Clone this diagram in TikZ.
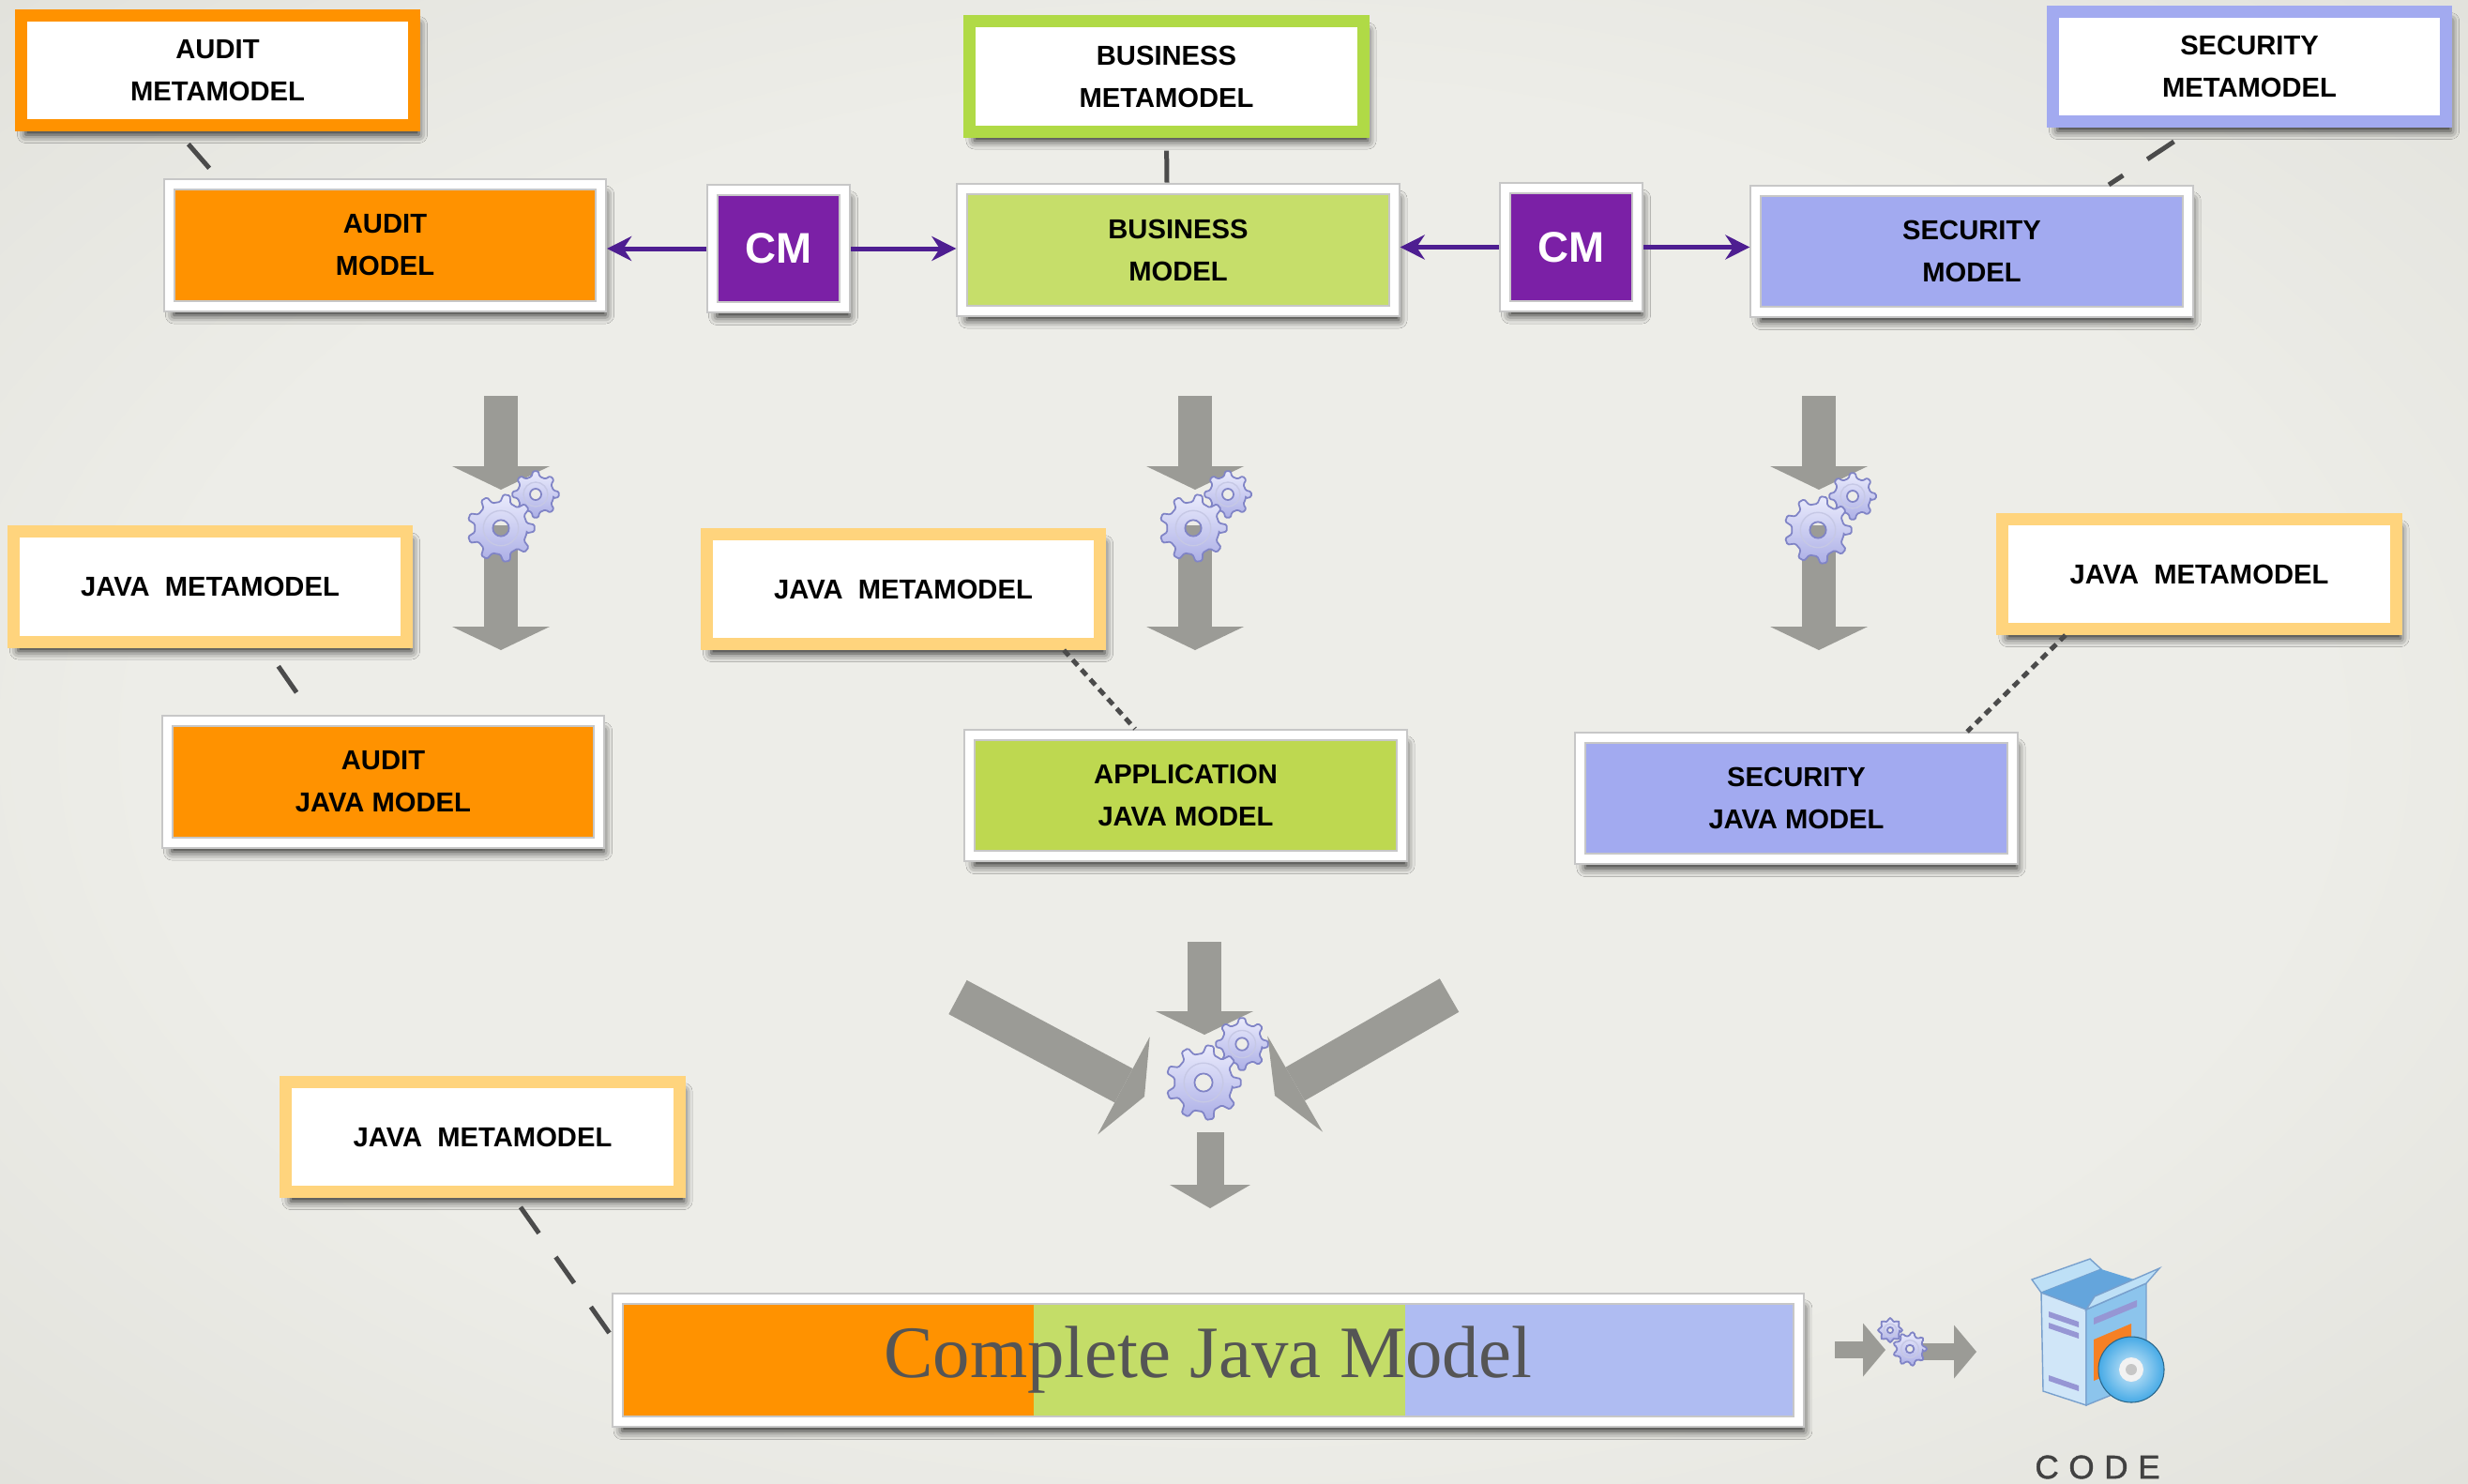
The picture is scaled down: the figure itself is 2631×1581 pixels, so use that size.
\documentclass[tikz,border=0pt]{standalone}
\usepackage{fontspec}
\newfontfamily\labelsans{Liberation Sans}
\newfontfamily\titleserif{Liberation Serif}
\newfontfamily\codesans{Liberation Sans}[LetterSpace=30,FakeBold=1.2]
\usepackage{xcolor}
\usepackage{tikz}
\usetikzlibrary{arrows.meta,calc,shadows.blur}

\definecolor{auditc}{RGB}{255,146,0}
\definecolor{busframe}{RGB}{176,218,70}
\definecolor{busc}{RGB}{198,222,106}
\definecolor{appc}{RGB}{190,216,80}
\definecolor{secc}{RGB}{162,170,240}
\definecolor{javac}{RGB}{255,212,125}
\definecolor{cmc}{RGB}{123,32,166}
\definecolor{cmline}{RGB}{78,30,145}
\definecolor{flowgray}{RGB}{155,155,150}
\definecolor{linkc}{RGB}{75,75,75}
\definecolor{gearhi}{RGB}{234,235,252}
\definecolor{gearlo}{RGB}{172,175,230}
\definecolor{gearline}{RGB}{128,132,198}
\definecolor{fullgreen}{RGB}{196,221,104}
\definecolor{fullblue}{RGB}{175,188,242}
\definecolor{fulltext}{RGB}{85,85,85}
\definecolor{codegray}{RGB}{65,65,65}
\definecolor{boxleft}{RGB}{208,230,248}
\definecolor{boxright}{RGB}{140,196,236}
\definecolor{boxtop}{RGB}{190,224,246}
\definecolor{boxinner}{RGB}{100,165,220}
\definecolor{boxedge}{RGB}{120,160,205}
\definecolor{boxstripe}{RGB}{150,150,212}
\definecolor{boxpanel}{RGB}{246,128,36}
\definecolor{cdblue}{RGB}{70,170,230}
\definecolor{bgin}{RGB}{237,237,232}
\definecolor{bgmid}{RGB}{214,214,207}
\definecolor{bgout}{RGB}{190,190,183}

\pgfdeclareradialshading{vignette}{\pgfpoint{0bp}{0bp}}{%
  color(0bp)=(bgin); color(22bp)=(bgin); color(50bp)=(bgmid); color(71bp)=(bgout)}

\newcommand{\boxfont}{\labelsans\bfseries\fontsize{8.3}{12.8}\selectfont}

% cog wheel: x, y, outer radius, number of teeth
\newcommand{\gearwheel}[4]{%
  \begin{scope}[shift={(#1,#2)}]
    \shadedraw[top color=gearhi, bottom color=gearlo, draw=gearline,
      line width=0.5pt, even odd rule, rounded corners=0.4pt]
      ({0.28*360/#4}:{0.78*#3})
      \foreach \k in {1,...,#4} {
        -- ({(\k-0.28)*360/#4}:{0.78*#3}) -- ({(\k-0.14)*360/#4}:#3)
        -- ({(\k+0.14)*360/#4}:#3) -- ({(\k+0.28)*360/#4}:{0.78*#3})
      } -- cycle
      (0,0) circle ({0.24*#3});
    \draw[gearline!45, line width=0.4pt] (0,0) circle ({0.52*#3});
  \end{scope}}

\begin{document}
\begin{tikzpicture}[x=0.01cm, y=-0.01cm,
  boxshadow/.style={blur shadow={shadow xshift=0.05cm, shadow yshift=-0.1cm,
    shadow blur radius=0.09cm, shadow opacity=85}},
  meta/.style={draw=#1, fill=white, line width=0.13cm, minimum width=4.19cm,
    minimum height=1.17cm, inner sep=0pt, align=center, font=\boxfont, boxshadow},
  model/.style={fill=#1, draw=black!22, double=white, double distance=0.09cm,
    line width=0.02cm, outer sep=0.065cm, minimum width=4.60cm,
    minimum height=1.29cm, inner sep=0pt, align=center, font=\boxfont, boxshadow},
  cmbox/.style={model=cmc, minimum width=1.41cm, minimum height=1.25cm, text=white,
    font=\labelsans\bfseries\fontsize{13}{15}\selectfont},
  complete/.style={draw=black!22, double=white, double distance=0.09cm,
    line width=0.02cm, outer sep=0.065cm, minimum width=12.59cm,
    minimum height=1.31cm, boxshadow, text=fulltext,
    font=\titleserif\fontsize{22.4}{26}\selectfont,
    path picture={
      \fill[auditc] (path picture bounding box.south west) rectangle
        ($(path picture bounding box.north west)!0.352!(path picture bounding box.north east)$);
      \fill[fullgreen] ($(path picture bounding box.south west)!0.352!(path picture bounding box.south east)$)
        rectangle ($(path picture bounding box.north west)!0.667!(path picture bounding box.north east)$);
      \fill[fullblue] ($(path picture bounding box.south west)!0.667!(path picture bounding box.south east)$)
        rectangle (path picture bounding box.north east);
    }},
  cmarrow/.style={draw=cmline, line width=0.05cm,
    -{Stealth[length=0.26cm, width=0.26cm]}},
  metalink/.style={draw=linkc, line width=0.05cm, dash pattern=on 0.34cm off 0.31cm},
  metadots/.style={draw=linkc, line width=0.05cm, dash pattern=on 0.08cm off 0.06cm},
  flow/.style={draw=flowgray, line width=0.36cm,
    -{Triangle[length=0.25cm, width=1.04cm, line width=0pt]}},
  flowwide/.style={draw=flowgray, line width=0.41cm,
    -{Triangle[length=0.25cm, width=1.18cm, line width=0pt]}},
  flowsmall/.style={draw=flowgray, line width=0.29cm,
    -{Triangle[length=0.25cm, width=0.86cm, line width=0pt]}},
  flowtiny/.style={draw=flowgray, line width=0.18cm,
    -{Triangle[length=0.24cm, width=0.57cm, line width=0pt]}},
]
  \useasboundingbox (0,0) rectangle (2631,1581);
  \shade[shading=vignette] (0,0) rectangle (2631,1581);

  % metamodels and models
  \node[meta=auditc]   (auditmeta) at (232,75)      {AUDIT\\METAMODEL};
  \node[meta=busframe] (busmeta)   at (1243.5,81.5) {BUSINESS\\METAMODEL};
  \node[meta=secc]     (secmeta)   at (2398,71)     {SECURITY\\METAMODEL};

  \node[model=auditc] (auditmodel) at (410.5,261.5) {AUDIT\\MODEL};
  \node[model=busc]   (busmodel)   at (1256,266.5)  {BUSINESS\\MODEL};
  \node[model=secc]   (secmodel)   at (2102,268)    {SECURITY\\MODEL};
  \node[cmbox] (cmleft)  at (830,265)    {CM};
  \node[cmbox] (cmright) at (1675,263.5) {CM};

  \node[meta=javac] (javaaudit) at (224,625.5) {JAVA~~METAMODEL};
  \node[meta=javac] (javaapp)   at (963,628)   {JAVA~~METAMODEL};
  \node[meta=javac] (javasec)   at (2344.5,612) {JAVA~~METAMODEL};

  \node[model=auditc] (auditjava) at (408.5,833.5) {AUDIT\\JAVA MODEL};
  \node[model=appc]   (appjava)   at (1264,848)    {APPLICATION\\JAVA MODEL};
  \node[model=secc]   (secjava)   at (1915,851)    {SECURITY\\JAVA MODEL};

  \node[meta=javac] (javafull) at (514.5,1212) {JAVA~~METAMODEL};
  \node[complete] (complete) at (1288,1450) {Complete Java Model};

  % CM links
  \draw[cmarrow] (cmleft.west)  -- (cmleft.west -| auditmodel.east);
  \draw[cmarrow] (cmleft.east)  -- (cmleft.east -| busmodel.west);
  \draw[cmarrow] (cmright.west) -- (cmright.west -| busmodel.east);
  \draw[cmarrow] (cmright.east) -- (cmright.east -| secmodel.west);

  % conformance links
  \draw[metalink, dash phase=0.47cm] ([xshift=-0.43cm]auditmeta.south) -- ([xshift=-1.775cm]auditmodel.north);
  \draw[metalink, dash phase=0.51cm] (busmeta.south) -- ([xshift=-0.12cm]busmodel.north);
  \draw[metalink, dash phase=0.38cm] ([xshift=-0.58cm]secmeta.south) -- ([xshift=1.46cm]secmodel.north);
  \draw[metalink, dash phase=0.41cm] ([xshift=0.59cm]javaaudit.south) -- ([xshift=-0.755cm]auditjava.north);
  \draw[metadots] ([xshift=1.71cm]javaapp.south) -- ([xshift=-0.54cm]appjava.north);
  \draw[metadots] ([xshift=-1.425cm]javasec.south) -- ([xshift=1.82cm]secjava.north);
  \draw[metalink, dash phase=0.53cm] ([xshift=0.335cm]javafull.south) -- ([yshift=0.26cm]complete.west);

  % transformations
  \coordinate (t1a) at (534,422);  \coordinate (t1b) at (534,522);
  \coordinate (t1c) at (534,560);  \coordinate (t1d) at (534,693);
  \coordinate (t2a) at (1274,422); \coordinate (t2b) at (1274,522);
  \coordinate (t2c) at (1274,560); \coordinate (t2d) at (1274,693);
  \coordinate (t3a) at (1939,422); \coordinate (t3b) at (1939,522);
  \coordinate (t3c) at (1939,560); \coordinate (t3d) at (1939,693);
  \draw[flow] (t1a) -- (t1b);  \draw[flow] (t1c) -- (t1d);
  \draw[flow] (t2a) -- (t2b);  \draw[flow] (t2c) -- (t2d);
  \draw[flow] (t3a) -- (t3b);  \draw[flow] (t3c) -- (t3d);

  \gearwheel{571}{527}{25}{8}   \gearwheel{534}{563}{36}{9}
  \gearwheel{1309}{527}{25}{8}  \gearwheel{1272}{563}{36}{9}
  \gearwheel{1975}{529}{25}{8}  \gearwheel{1938}{565}{36}{9}

  % merge
  \coordinate (mtop)  at (1284,1004); \coordinate (mtopend) at (1284,1103);
  \coordinate (mleft) at (1021,1063); \coordinate (mleftend) at (1220,1169);
  \coordinate (mright) at (1545,1061); \coordinate (mrightend) at (1359,1168);
  \coordinate (mout) at (1290,1207);  \coordinate (moutend) at (1290,1288);
  \draw[flow] (mtop) -- (mtopend);
  \draw[flowwide] (mleft) -- (mleftend);
  \draw[flowwide] (mright) -- (mrightend);
  \draw[flowsmall] (mout) -- (moutend);
  \gearwheel{1324}{1113}{28}{8}  \gearwheel{1283}{1154}{40}{9}

  % code generation
  \coordinate (ga) at (1956,1439); \coordinate (gb) at (2010,1439);
  \coordinate (gc) at (2050,1441); \coordinate (gd) at (2107,1441);
  \draw[flowtiny] (ga) -- (gb);
  \draw[flowtiny] (gc) -- (gd);
  \gearwheel{2015}{1418}{13}{8}  \gearwheel{2036}{1438}{18}{9}

  % package icon
  \filldraw[fill=boxtop, draw=boxedge, line width=0.4pt] (2176,1378) -- (2166,1364) -- (2228,1342) -- (2240,1353) -- cycle;
  \fill[boxinner] (2176,1378) -- (2240,1353) -- (2288,1368) -- (2224,1396) -- cycle;
  \filldraw[fill=boxleft, draw=boxedge, line width=0.4pt] (2176,1378) -- (2224,1396) -- (2224,1498) -- (2178,1483) -- cycle;
  \filldraw[fill=boxright, draw=boxedge, line width=0.4pt] (2224,1396) -- (2288,1368) -- (2288,1472) -- (2224,1498) -- cycle;
  \filldraw[fill=boxtop, draw=boxedge, line width=0.4pt] (2224,1396) -- (2233,1382) -- (2302,1352) -- (2288,1368) -- cycle;
  \fill[boxstripe] (2184,1398) -- (2216,1409) -- (2216,1415) -- (2184,1404) -- cycle;
  \fill[boxstripe] (2184,1410) -- (2216,1421) -- (2216,1427) -- (2184,1416) -- cycle;
  \fill[boxstripe] (2184,1466) -- (2216,1477) -- (2216,1483) -- (2184,1472) -- cycle;
  \fill[boxstripe] (2232,1405) -- (2278,1386) -- (2278,1393) -- (2232,1412) -- cycle;
  \fill[boxpanel] (2232,1428) -- (2272,1411) -- (2272,1455) -- (2232,1472) -- cycle;
  \shadedraw[inner color=cdblue!25, outer color=cdblue, draw=cdblue!60!black, line width=0.3pt] (2272,1460) circle (35);
  \fill[white!90!gray] (2272,1460) circle (13);
  \fill[gray!45] (2272,1460) circle (6);
  \node[font=\codesans\fontsize{10}{12}\selectfont, text=codegray] (codelabel) at (2236,1564) {CODE};
\end{tikzpicture}
\end{document}
